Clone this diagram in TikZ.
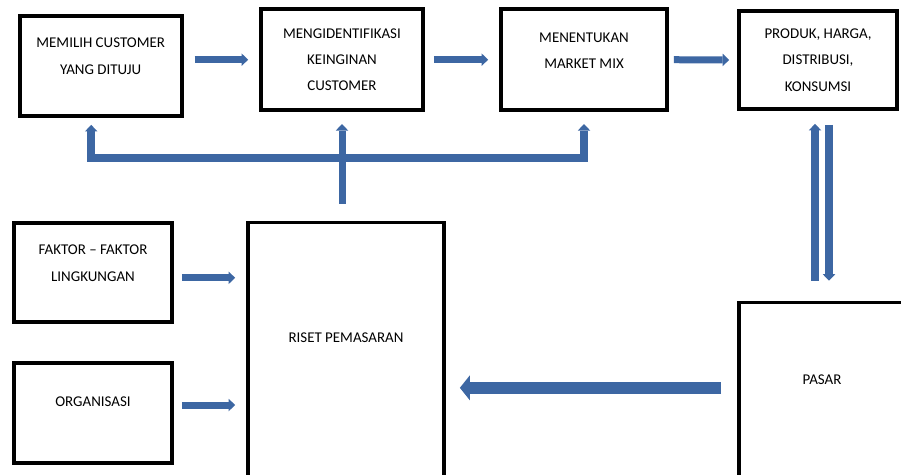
\documentclass[tikz,border=0pt]{standalone}
\usepackage{fontspec}
\setmainfont{Carlito}
\usepackage{tikz}
\usetikzlibrary{arrows.meta}
\definecolor{birupanah}{RGB}{61,103,163}

\tikzset{
  kepala/.tip={Triangle[width=0.25cm,length=0.13cm,line width=0pt]},
  kepalabesar/.tip={Triangle[width=0.5cm,length=0.2cm,line width=0pt]},
  blok/.style={draw, line width=0.075cm, minimum width=3.24cm, minimum height=2cm,
    align=center, inner sep=1pt, font=\fontsize{8.5}{15}\selectfont},
  naik/.style={text depth=#1},
  panah/.style={draw=birupanah, line width=0.14cm, -kepala},
  panahbesar/.style={draw=birupanah, line width=0.23cm, -kepalabesar}
}

\begin{document}
\begin{tikzpicture}[x=0.02cm, y=-0.02cm]
\useasboundingbox (0,0) rectangle (901,474);

% baris atas
\node[blok, naik=0.4cm] (memilih) at (100.7,66) {MEMILIH CUSTOMER\\YANG DITUJU};
\node[blok, minimum height=2.02cm] (mengid) at (342,59.7) {MENGIDENTIFIKASI\\KEINGINAN\\CUSTOMER};
\node[blok, naik=0.36cm, minimum width=3.32cm, minimum height=2.02cm] (mix) at (584,59.7) {MENENTUKAN\\MARKET MIX};
\node[blok, minimum width=3.16cm, minimum height=1.96cm] (produk) at (818,60) {PRODUK, HARGA,\\DISTRIBUSI,\\KONSUMSI};

% baris bawah
\node[blok, naik=0.36cm, minimum width=3.16cm, minimum height=1.98cm] (faktor) at (93,272.3) {FAKTOR -- FAKTOR\\LINGKUNGAN};
\node[blok, naik=0.44cm, minimum width=3.16cm] (organisasi) at (93,413) {ORGANISASI};
\node[blok, naik=0.53cm, minimum width=3.92cm, minimum height=5.15cm] (riset) at (346,351.3) {RISET PEMASARAN};
\node[blok, naik=0.45cm, minimum width=3.32cm, minimum height=3.55cm] (pasar) at (822,391.3) {PASAR};

% alur atas
\draw[panah, shorten <=0.22cm, shorten >=0.22cm] (memilih.east |- mengid.west) -- (mengid.west);
\draw[panah, shorten <=0.18cm, shorten >=0.22cm] (mengid.east) -- (mix.west);
\draw[panah, shorten <=0.1cm, shorten >=0.16cm] (mix.east) -- (produk.west);

% umpan balik riset
\coordinate (silang) at (340,158);
\draw[panah, line width=0.17cm, kepala-kepala, shorten <=0.14cm, shorten >=0.24cm] ([xshift=-0.19cm]memilih.south) |- (silang) -| (mix.south);
\draw[panah, shorten <=0.34cm, shorten >=0.24cm] (mengid.south |- riset.north) -- (mengid.south);

% produk <-> pasar
\draw[panah, line width=0.16cm, shorten <=0.4cm, shorten >=0.26cm] ([xshift=-0.06cm]produk.south |- pasar.north) -- ([xshift=-0.06cm]produk.south);
\draw[panah, line width=0.16cm, shorten <=0.28cm, shorten >=0.4cm] ([xshift=0.22cm]produk.south) -- ([xshift=0.22cm]produk.south |- pasar.north);

% masukan ke riset
\draw[panah, shorten <=0.16cm, shorten >=0.22cm] ([yshift=-0.11cm]faktor.east) -- ([yshift=-0.11cm]faktor.east -| riset.west);
\draw[panah, shorten <=0.16cm, shorten >=0.22cm] ([yshift=0.16cm]organisasi.east) -- ([yshift=0.16cm]organisasi.east -| riset.west);
\draw[panahbesar, shorten <=0.32cm, shorten >=0.28cm] ([yshift=0.07cm]pasar.west) -- ([yshift=0.07cm]pasar.west -| riset.east);
\end{tikzpicture}
\end{document}
